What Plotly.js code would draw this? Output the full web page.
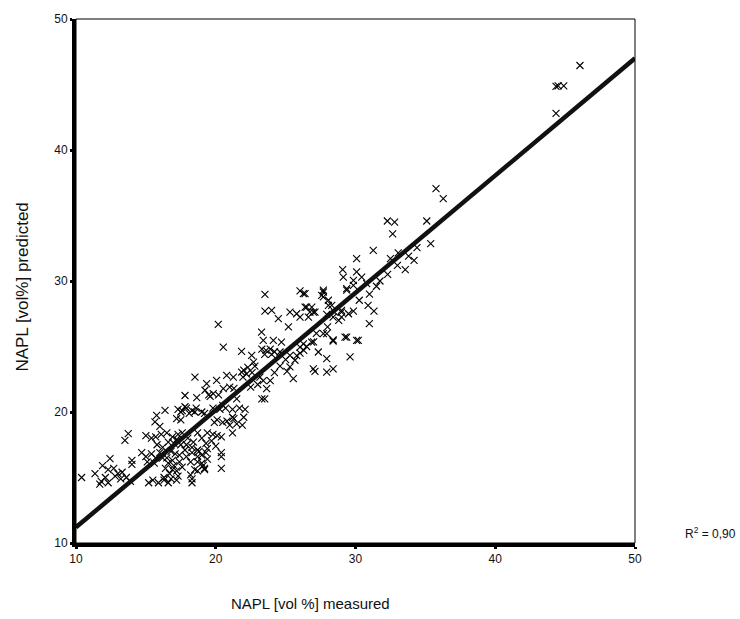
<!DOCTYPE html>
<html>
<head>
<meta charset="utf-8">
<script src="https://cdn.plot.ly/plotly-3.0.1.min.js"></script>
<style>html,body{margin:0;padding:0;background:#fff;}#chart{width:740px;height:619px;}</style>
</head>
<body>
<div id="chart"></div>
<script>
// NAPL [vol %] measured vs predicted
const measured = [
35.76,36.28,32.28,32.8,35.1,32.66,31.27,34.4,35.38,30.08,32.5,33.06,34.19,33.56,29.08,29.13,30.08,30.44,31.75,29.85,30.8,29.37,26.27,27.7,27.58,28.06,30.27,28.3,30.9,31.32,29.85,29.0,26.39,26.87,26.99,26.63,27.94,28.4,29.0,30.99,29.37,30.2,28.4,27.7,27.0,26.27,
44.35,44.5,44.9,46.06,44.35,
23.52,26.03,26.39,27.7,27.7,29.37,29.85,20.18,23.52,24.0,24.48,25.31,25.79,26.5,26.74,26.03,27.1,28.06,28.5,29.0,25.2,23.28,20.54,21.85,23.4,24.12,24.7,23.3,23.6,23.9,24.2,23.5,24.0,22.57,22.7,24.6,25.31,26.03,26.3,26.03,26.86,27.34,27.94,27.94,28.4,29.25,29.61,30.08,25.67,25.31,25.1,25.55,26.98,27.1,27.94,28.4,22.0,22.3,22.6,22.2,22.8,21.85,21.95,23.16,23.4,23.9,23.64,23.3,23.5,18.51,19.35,20.06,20.78,21.26,17.8,18.64,19.23,19.82,20.2,19.6,20.54,21.0,21.3,
17.6,17.9,18.3,18.5,18.1,17.2,17.5,19.0,19.2,19.8,20.3,20.7,21.2,21.7,22.1,21.2,22.0,19.9,20.5,21.0,21.5,21.9,19.4,19.8,20.1,20.4,21.2,19.0,19.3,19.7,20.0,18.3,18.7,19.0,19.3,20.4,20.4,18.2,18.7,19.1,18.5,19.2,
19.5,16.37,17.3,17.5,17.8,18.6,15.77,20.1,20.8,21.3,13.74,13.5,15.0,15.4,15.7,16.1,16.5,16.9,17.3,17.6,18.0,15.65,16.0,17.0,17.5,18.4,18.7,19.4,18.8,14.7,15.0,15.4,15.7,16.0,15.1,15.6,16.2,16.6,16.9,16.4,16.7,17.2,16.3,16.8,17.4,17.9,18.3,18.7,19.0,19.4,19.2,18.7,12.43,11.9,12.3,12.7,13.0,13.3,13.6,12.8,12.1,13.2,13.9,11.36,11.8,11.7,12.3,14.0,14.0,10.4,15.5,15.2,15.9,16.3,16.6,17.2,18.3,18.3,20.4,18.2,
16.8,17.1,17.4,17.6,17.0,16.5,17.8,16.2,15.8,16.6,17.2,17.9,16.9,17.3,
22.5,23.0,24.2,24.6,25.0,25.8,26.5,27.2,28.0,28.8,29.5,31.0,31.5,32.3,33.0,33.8,21.5,20.5
];
const predicted = [
37.05,36.29,34.58,34.5,34.58,33.6,32.34,32.55,32.85,31.7,31.7,32.14,31.58,30.87,30.87,30.3,30.69,30.3,30.0,30.05,29.8,29.42,29.04,29.3,28.9,28.53,28.53,28.14,28.14,27.7,27.7,27.76,28.0,28.0,27.63,27.25,27.46,27.25,27.25,26.74,25.72,25.47,25.42,25.98,25.35,25.2,
44.86,44.9,44.9,46.45,42.8,
28.98,29.24,29.04,29.16,28.78,29.3,29.67,26.69,27.7,27.76,27.13,27.63,27.5,28.0,27.63,27.25,27.63,28.14,27.63,27.63,26.49,26.1,24.96,24.63,25.47,25.47,25.34,24.8,24.7,24.8,24.6,24.4,24.4,24.33,23.8,24.58,24.33,24.96,24.7,24.5,25.34,24.58,25.98,24.07,25.5,25.72,24.2,25.47,23.95,23.44,23.1,22.55,23.3,23.1,23.05,23.3,23.2,23.4,23.0,22.9,23.5,23.05,22.67,22.67,22.4,22.4,21.78,21.0,21.0,22.67,22.17,22.42,22.8,22.67,21.26,21.1,21.66,21.4,21.3,21.2,21.78,21.9,21.8,
20.1,20.3,20.1,20.0,19.9,19.5,19.4,20.0,19.9,20.3,20.2,20.3,20.2,20.3,20.2,19.6,19.6,19.2,19.2,19.0,19.1,19.0,18.4,18.3,18.2,18.1,18.4,18.0,17.6,17.8,17.4,17.3,17.1,16.7,16.9,16.9,16.6,16.2,16.2,15.9,15.6,15.7,
21.3,20.13,20.2,20.0,20.4,20.3,19.75,19.4,19.3,19.5,18.35,17.84,18.2,18.0,18.1,18.3,18.4,18.1,18.3,18.4,18.0,19.24,18.9,17.6,17.5,17.7,18.4,17.2,17.0,16.9,16.6,16.8,16.5,16.9,16.2,16.1,16.5,16.1,16.3,15.7,15.3,15.5,15.0,14.9,16.7,16.6,16.9,16.6,16.1,16.4,15.6,15.5,16.44,15.9,15.6,15.7,15.3,15.4,15.0,15.1,15.0,14.9,14.7,15.3,14.7,14.5,14.6,16.3,16.0,15.0,14.8,14.6,14.6,14.8,14.6,14.8,14.9,14.6,15.7,15.2,
17.0,16.8,16.2,15.8,15.9,16.5,17.1,17.3,17.5,17.7,17.9,17.5,15.6,15.1,
21.9,22.1,23.0,23.5,24.0,24.3,25.0,26.0,26.5,27.0,27.5,29.0,29.6,30.5,31.2,31.9,21.0,20.5
];
// regression line end points
const fitX = [10, 50];
const fitY = [11.2, 47.0];
const tickVals = [10, 20, 30, 40, 50];
const xTitle = 'NAPL [vol %] measured';
const yTitle = 'NAPL [vol%] predicted';
const r2Text = 'R<sup>2</sup> = 0,90';

const font = 'Liberation Sans, Arial, sans-serif';

const traces = [
  {x: measured, y: predicted, type: 'scatter', mode: 'markers',
   marker: {symbol: 'x-thin', size: 7, color: '#000', line: {width: 1.1, color: '#000'}},
   hoverinfo: 'x+y'},
  {x: fitX, y: fitY, type: 'scatter', mode: 'lines',
   line: {color: '#111', width: 4.5}, hoverinfo: 'skip'}
];

const axisBase = {
  range: [10, 50], tickvals: tickVals, ticktext: tickVals.map(String),
  showgrid: false, zeroline: false, showline: true, linecolor: '#000', linewidth: 4,
  ticks: 'outside', ticklen: 2, tickwidth: 3, tickcolor: '#000',
  tickfont: {family: font, size: 12, color: '#111'}, fixedrange: true
};

const layout = {
  width: 740, height: 619,
  margin: {l: 76, r: 105, t: 19, b: 76},
  paper_bgcolor: '#fff', plot_bgcolor: '#fff',
  showlegend: false,
  font: {family: font, color: '#111'},
  xaxis: Object.assign({}, axisBase),
  yaxis: Object.assign({}, axisBase),
  shapes: [
    {type: 'rect', xref: 'paper', yref: 'paper', x0: 0, x1: 1, y0: 0, y1: 1,
     line: {color: '#000', width: 1}, layer: 'above'}
  ],
  annotations: [
    {text: xTitle, xref: 'paper', yref: 'paper', x: 0.42, y: -0.115,
     xanchor: 'center', yanchor: 'middle', showarrow: false, font: {family: font, size: 15, color: '#111'}},
    {text: yTitle, xref: 'paper', yref: 'paper', x: -0.096, y: 0.488, textangle: -90,
     xanchor: 'center', yanchor: 'middle', showarrow: false, font: {family: font, size: 17, color: '#111'}},
    {text: r2Text, xref: 'paper', yref: 'paper', x: 1.086, y: 0.0185,
     xanchor: 'left', yanchor: 'middle', showarrow: false, font: {family: font, size: 12, color: '#111'}}
  ]
};

Plotly.newPlot('chart', traces, layout, {displayModeBar: false, staticPlot: true});
</script>
</body>
</html>
